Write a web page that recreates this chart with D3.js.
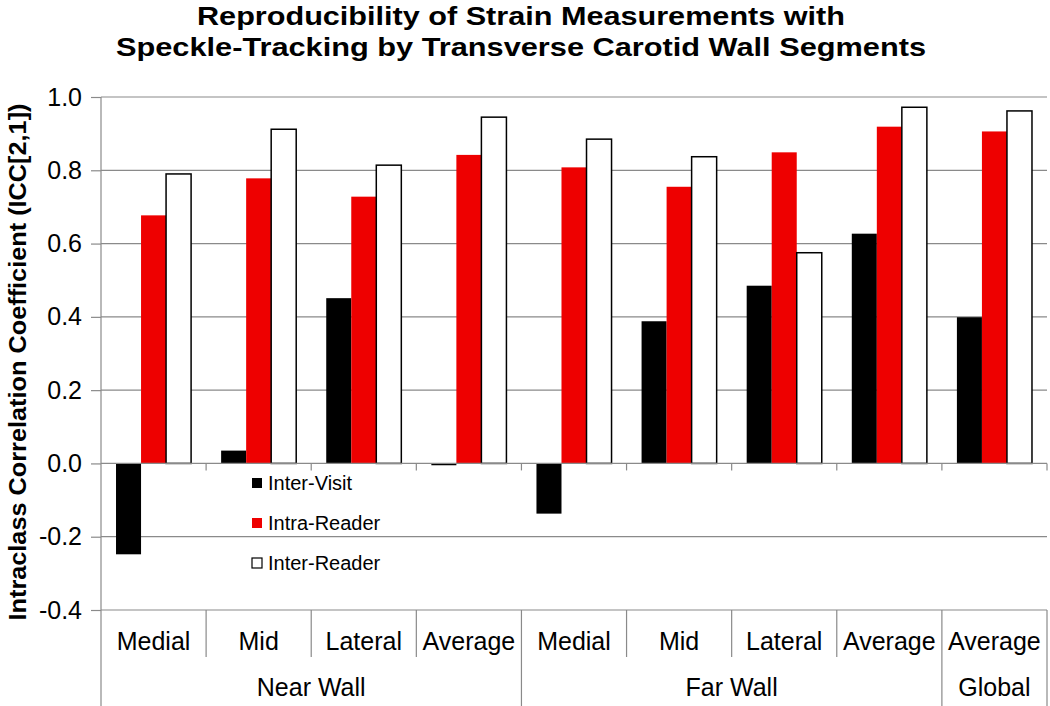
<!DOCTYPE html>
<html>
<head>
<meta charset="utf-8">
<script src="https://cdn.jsdelivr.net/npm/d3@7"></script>
<style>
  body { margin: 0; background: #fff; }
  svg { display: block; }
  text { font-family: "Liberation Sans", Arial, sans-serif; }
</style>
</head>
<body>
<svg id="chart" width="1050" height="706"></svg>
<script>
// ---- data ----
const segments = ["Medial", "Mid", "Lateral", "Average", "Medial", "Mid", "Lateral", "Average", "Average"];
const groups = ["Near Wall", "Far Wall", "Global"];
const groupOf = ["Near Wall", "Near Wall", "Near Wall", "Near Wall", "Far Wall", "Far Wall", "Far Wall", "Far Wall", "Global"];
const seriesNames = ["Inter-Visit", "Intra-Reader", "Inter-Reader"];
const interVisit = [-0.248, 0.035, 0.451, -0.005, -0.137, 0.388, 0.485, 0.627, 0.399];
const intraReader = [0.677, 0.778, 0.728, 0.842, 0.808, 0.755, 0.849, 0.919, 0.906];
const interReader = [0.790, 0.912, 0.814, 0.945, 0.885, 0.837, 0.575, 0.972, 0.962];
const yTicks = [-0.4, -0.2, 0.0, 0.2, 0.4, 0.6, 0.8, 1.0];
const titleLines = ["Reproducibility of Strain Measurements with", "Speckle-Tracking by Transverse Carotid Wall Segments"];
const yTitle = "Intraclass Correlation Coefficient (ICC[2,1])";

const seriesValues = [interVisit, intraReader, interReader];
const fills = ["#000000", "#ee0000", "#ffffff"];

const svg = d3.select("#chart");
const plotL = 101, plotR = 1047, plotT = 97, plotB = 610;
const gridColor = "#8a8a8a";

// scales
const y = d3.scaleLinear().domain([-0.4, 1.0]).range([plotB, plotT]);
const idx = d3.range(segments.length);
const x = d3.scaleBand().domain(idx).range([plotL, plotR]).padding(0);
const xs = d3.scaleBand().domain(d3.range(seriesNames.length))
  .range([0, x.bandwidth()]).paddingInner(0).paddingOuter(0.6);
const edges = d3.range(segments.length + 1).map(i => plotL + i * x.step());

// gridlines
svg.append("g").selectAll("line").data(yTicks.filter(d => d !== 0)).join("line")
  .attr("x1", plotL).attr("x2", plotR)
  .attr("y1", d => y(d)).attr("y2", d => y(d))
  .attr("stroke", gridColor).attr("stroke-width", 1.2);

// y axis
const fmt = d3.format(".1f");
const yAxis = d3.axisLeft(y).tickValues(yTicks)
  .tickFormat(d => fmt(d).replace("\u2212", "-")).tickSize(10).tickPadding(9);
const yg = svg.append("g").attr("transform", `translate(${plotL},0)`).call(yAxis);
yg.select(".domain").remove();
yg.selectAll(".tick line").attr("stroke", gridColor).attr("stroke-width", 1.2);
yg.selectAll(".tick text").attr("font-size", 25).attr("fill", "#000")
  .style("font-family", "'Liberation Sans', Arial, sans-serif");

// left axis line
svg.append("line").attr("x1", plotL).attr("x2", plotL).attr("y1", plotT).attr("y2", 706)
  .attr("stroke", gridColor).attr("stroke-width", 1.2);

// bars
seriesValues.forEach((vals, s) => {
  svg.append("g").selectAll("rect").data(idx).join("rect")
    .attr("x", i => x(i) + xs(s))
    .attr("width", xs.bandwidth())
    .attr("y", i => y(Math.max(0, vals[i])))
    .attr("height", i => Math.max(1.2, Math.abs(y(vals[i]) - y(0))))
    .attr("fill", fills[s])
    .attr("stroke", s === 2 ? "#000" : "none")
    .attr("stroke-width", s === 2 ? 1.5 : 0);
});

// zero axis line with ticks
svg.append("line").attr("x1", plotL).attr("x2", plotR).attr("y1", y(0)).attr("y2", y(0))
  .attr("stroke", gridColor).attr("stroke-width", 1.2);
svg.append("g").selectAll("line").data(edges.slice(1)).join("line")
  .attr("x1", d => d).attr("x2", d => d)
  .attr("y1", y(0)).attr("y2", y(0) + 7)
  .attr("stroke", gridColor).attr("stroke-width", 1.2);

// category table separators
const groupBounds = [0, 4, 8, 9];
svg.append("g").selectAll("line").data(d3.range(1, segments.length + 1)).join("line")
  .attr("x1", i => edges[i]).attr("x2", i => edges[i])
  .attr("y1", plotB).attr("y2", i => groupBounds.includes(i) ? 706 : 657)
  .attr("stroke", gridColor).attr("stroke-width", 1.2);

// category labels
svg.append("g").selectAll("text").data(idx).join("text")
  .attr("x", i => x(i) + x.bandwidth() / 2)
  .attr("y", 650)
  .attr("text-anchor", "middle")
  .attr("font-size", 25)
  .text(i => segments[i]);

// group labels
const groupRanges = [[0, 4], [4, 8], [8, 9]];
svg.append("g").selectAll("text").data(groups).join("text")
  .attr("x", (g, k) => (edges[groupRanges[k][0]] + edges[groupRanges[k][1]]) / 2)
  .attr("y", 696)
  .attr("text-anchor", "middle")
  .attr("font-size", 25)
  .text(g => g);

// legend
const lg = svg.append("g");
seriesNames.forEach((name, s) => {
  const cy = 483 + s * 40;
  lg.append("rect").attr("x", 252).attr("y", cy - 5).attr("width", 10).attr("height", 10)
    .attr("fill", fills[s]).attr("stroke", s === 2 ? "#000" : "none").attr("stroke-width", 1.2);
  lg.append("text").attr("x", 268).attr("y", cy + 7).attr("font-size", 20).text(name);
});

// title
const titleWidths = [648, 810];
svg.append("g").selectAll("text").data(titleLines).join("text")
  .attr("x", 521).attr("y", (d, i) => 25 + i * 31)
  .attr("text-anchor", "middle")
  .attr("font-size", 25).attr("font-weight", "bold")
  .attr("textLength", (d, i) => titleWidths[i])
  .attr("lengthAdjust", "spacingAndGlyphs")
  .text(d => d);

// y axis title
svg.append("text")
  .attr("transform", "translate(26,362) rotate(-90)")
  .attr("text-anchor", "middle")
  .attr("font-size", 23).attr("font-weight", "bold")
  .attr("textLength", 517)
  .attr("lengthAdjust", "spacingAndGlyphs")
  .text(yTitle);
</script>
</body>
</html>
